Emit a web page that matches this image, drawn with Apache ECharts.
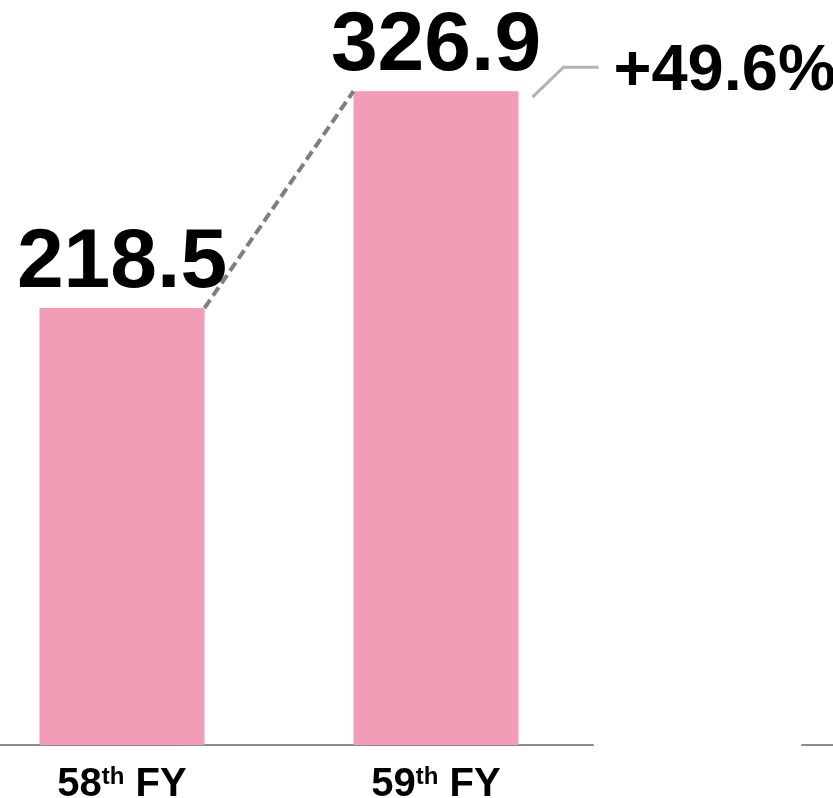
<!DOCTYPE html>
<html>
<head>
<meta charset="utf-8">
<script src="https://cdn.jsdelivr.net/npm/echarts@6/dist/echarts.min.js"></script>
<style>
  html, body { margin: 0; padding: 0; background: #fff; }
  #main { width: 833px; height: 798px; }
</style>
</head>
<body>
<div id="main"></div>
<script>
// 数据
var categories = ['58', '59'];
var values = [218.5, 326.9];
var growthText = '+49.6%';

var barW = 165;
var font = '"Liberation Sans", Arial, sans-serif';

// 柱子按索引放在数值型x轴上
var barData = values.map(function (v, i) { return [i, v]; });

var myChart = echarts.init(document.getElementById('main'));

var option = {
  backgroundColor: '#ffffff',
  animation: false,
  grid: [
    { left: 0, right: 240, top: 45, bottom: 53, outerBoundsMode: 'none' },
    { left: 802, right: 0, top: 45, bottom: 53, outerBoundsMode: 'none' } // 右侧相邻图表的轴线
  ],
  xAxis: [
    {
      type: 'value',
      gridIndex: 0,
      min: -0.3885,
      max: 1.5,
      splitLine: { show: false },
      axisTick: { show: false },
      axisLine: { show: true, lineStyle: { color: '#8c8c8c', width: 2 } },
      axisLabel: {
        margin: 18,
        customValues: [0, 1],
        formatter: function (v) {
          return '{n|' + categories[Math.round(v)] + '}{s|th}{n| FY}';
        },
        rich: {
          n: { fontFamily: font, fontWeight: 'bold', fontSize: 40, color: '#000', lineHeight: 44 },
          s: { fontFamily: font, fontWeight: 'bold', fontSize: 24, color: '#000', lineHeight: 44, padding: [0, 0, 16, 0] }
        }
      }
    },
    {
      type: 'value',
      gridIndex: 1,
      axisLine: { show: true, lineStyle: { color: '#8c8c8c', width: 2 } },
      axisTick: { show: false },
      axisLabel: { show: false },
      splitLine: { show: false }
    }
  ],
  yAxis: [
    { type: 'value', gridIndex: 0, min: 0, max: 350, show: false },
    { type: 'value', gridIndex: 1, min: 0, max: 350, show: false }
  ],
  series: [
    {
      type: 'bar',
      data: barData,
      barWidth: barW,
      itemStyle: { color: '#F29CB5' },
      label: {
        show: true,
        position: 'top',
        distance: 2,
        fontFamily: font,
        fontWeight: 'bold',
        fontSize: 84,
        color: '#000',
        formatter: function (p) { return p.value[1].toFixed(1); }
      },
      z: 2
    },
    {
      // 虚线连接两根柱子
      type: 'custom',
      data: [[0, values[0], 1, values[1]]],
      renderItem: function (params, api) {
        var p0 = api.coord([api.value(0), api.value(1)]);
        var p1 = api.coord([api.value(2), api.value(3)]);
        var half = barW / 2;
        var a = [p0[0] + half, p0[1]];
        var b = [p1[0] - half, p1[1]];
        var c = [p1[0] + half, p1[1]];
        return {
          type: 'group',
          children: [
            {
              type: 'line',
              shape: { x1: a[0], y1: a[1], x2: b[0], y2: b[1] },
              style: { stroke: '#7f7f7f', lineWidth: 4, lineDash: [10, 5] }
            },
            {
              type: 'polyline',
              shape: { points: [[c[0] + 14, c[1] + 6], [c[0] + 45, c[1] - 24], [c[0] + 80, c[1] - 24]] },
              style: { stroke: '#b3b3b3', lineWidth: 3, fill: null }
            },
            {
              type: 'text',
              x: c[0] + 95,
              y: c[1] - 19,
              style: {
                text: growthText,
                fontFamily: font,
                fontWeight: 'bold',
                fontSize: 65,
                fill: '#000',
                verticalAlign: 'middle',
                align: 'left'
              }
            }
          ]
        };
      },
      z: 3
    }
  ]
};

myChart.setOption(option);
</script>
</body>
</html>
